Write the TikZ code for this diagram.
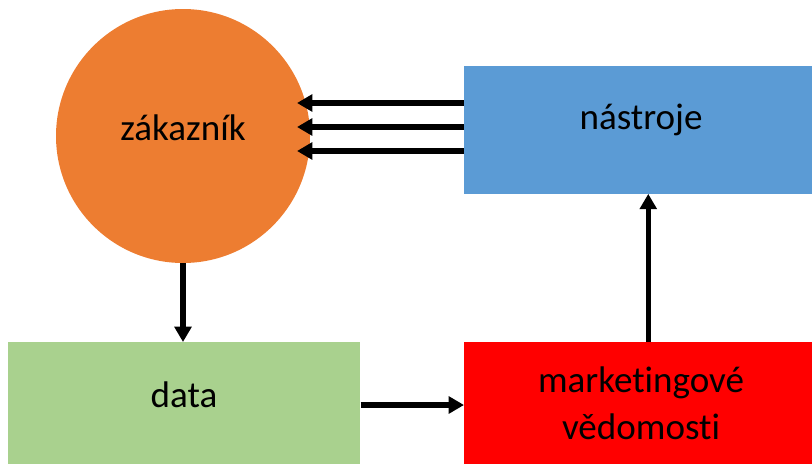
\documentclass[tikz,border=0pt]{standalone}
\usepackage{fontspec}
\setmainfont[Ligatures=NoCommon]{Carlito}
\usetikzlibrary{arrows.meta}

\definecolor{zorange}{HTML}{ED7D31}
\definecolor{zblue}{HTML}{5B9BD5}
\definecolor{zgreen}{HTML}{A9D18E}
\definecolor{zred}{HTML}{FF0000}

\tikzset{
  box/.style={draw=none, inner sep=0pt, anchor=north west},
  lbl/.style={font=\fontsize{27.8}{35}\selectfont, align=center},
  arr/.style={line width=4pt, -{Triangle[length=11.5pt, width=12.5pt]}}
}

\begin{document}
\begin{tikzpicture}[x=0.75pt, y=-0.75pt]
  \useasboundingbox (0,0) rectangle (812,464);

  % Customer circle
  \node[circle, fill=zorange, minimum size=190.5pt, inner sep=0pt] (zakaznik) at (183,136) {};
  \node[lbl] (zakaznikT) at (183,128) {zákazník};
  \coordinate (tip) at (297,136);

  % Boxes
  \node[box, fill=zblue, minimum width=261pt, minimum height=95.5pt] (nastroje) at (464,66) {};
  \node[lbl] (nastrojeT) at (641,120) {nástroje};

  \node[box, fill=zgreen, minimum width=264pt, minimum height=91.5pt] (data) at (8,342) {};
  \node[lbl] (dataT) at (184,395) {data};

  \node[box, fill=zred, minimum width=261pt, minimum height=91.5pt] (marketing) at (464,342) {};
  \node[lbl] (marketingT) at (641,403) {marketingové\\vědomosti};

  % Tools acting on the customer
  \foreach \y in {103,127,151}
    \draw[arr] (nastroje.west |- 0,\y) -- (tip |- 0,\y);

  % Cycle
  \draw[arr] (zakaznik.south) -- (zakaznik.south |- data.north);
  \draw[arr] (data.east |- 0,405) -- (marketing.west |- 0,405);
  \draw[arr] ([xshift=7.5pt]marketing.north) -- ([xshift=7.5pt]nastroje.south);
\end{tikzpicture}
\end{document}
